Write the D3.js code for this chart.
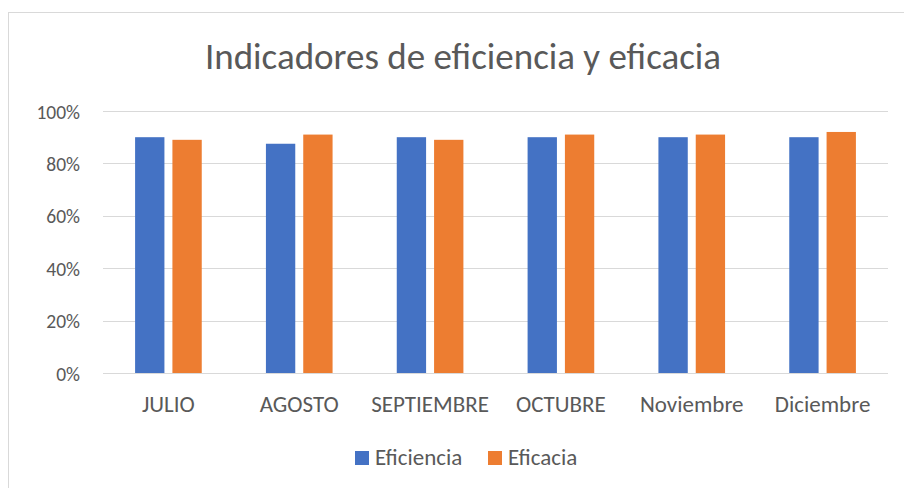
<!DOCTYPE html>
<html><head><meta charset="utf-8">
<script src="https://cdn.jsdelivr.net/npm/d3@7"></script>
<style>body{margin:0;background:#fff;} text{font-family:Carlito,Calibri,Lato,sans-serif;}</style>
</head><body><svg id="c" width="904" height="488"></svg>
<script>
const categories = ["JULIO","AGOSTO","SEPTIEMBRE","OCTUBRE","Noviembre","Diciembre"];
const seriesNames = ["Eficiencia","Eficacia"];
const eficiencia = [0.90,0.875,0.90,0.90,0.90,0.90];
const eficacia = [0.89,0.91,0.89,0.91,0.91,0.92];
const yTicks = [0,0.2,0.4,0.6,0.8,1.0];
const colors = ["#4472C4","#ED7D31"];

(function(){
const svg = d3.select("#c");
svg.append("rect").attr("x",8.5).attr("y",12.5).attr("width",910).attr("height",490)
  .attr("fill","#fff").attr("stroke","#d9d9d9").attr("stroke-width",1);

const pl=103, pr=888, pt=111, pb=373;
const x = d3.scaleBand().domain(categories).range([pl,pr]);
const sub = d3.scaleBand().domain(seriesNames).range([0,x.bandwidth()]).paddingInner(0.214).paddingOuter(0.86);
const y = d3.scaleLinear().domain([0,1]).range([pb,pt]);

svg.append("g").selectAll("line").data(yTicks).join("line")
  .attr("x1",pl).attr("x2",pr).attr("y1",d=>Math.round(y(d))+0.5).attr("y2",d=>Math.round(y(d))+0.5)
  .attr("stroke","#d9d9d9").attr("stroke-width",1);

const yAxis = svg.append("g").attr("transform",`translate(${pl},0)`)
  .call(d3.axisLeft(y).tickValues(yTicks).tickFormat(d3.format(".0%")).tickSize(0).tickPadding(23));
yAxis.select(".domain").remove();
yAxis.selectAll("text").attr("fill","#595959").style("font-size","19.5px").attr("dy","0.36em");

const xAxis = svg.append("g").attr("transform",`translate(0,${pb})`)
  .call(d3.axisBottom(x).tickSize(0));
xAxis.select(".domain").remove();
xAxis.selectAll("text").attr("fill","#595959").style("font-size","23px").attr("y",39).attr("dy",0);

const data = [eficiencia, eficacia];
seriesNames.forEach((s,i)=>{
  svg.append("g").selectAll("rect").data(categories).join("rect")
    .attr("x",c=>x(c)+sub(s)).attr("width",sub.bandwidth())
    .attr("y",(c,j)=>y(data[i][j])).attr("height",(c,j)=>y(0)-y(data[i][j]))
    .attr("fill",colors[i]);
});

svg.append("text").attr("x",463).attr("y",69).attr("text-anchor","middle")
  .attr("fill","#595959").style("font-size","37px").text("Indicadores de eficiencia y eficacia");

const legendX=[355,488];
seriesNames.forEach((s,i)=>{
  svg.append("rect").attr("x",legendX[i]).attr("y",451).attr("width",14).attr("height",14).attr("fill",colors[i]);
  svg.append("text").attr("x",legendX[i]+20).attr("y",465).attr("fill","#595959").style("font-size","23px").text(s);
});
})();
</script></body></html>
